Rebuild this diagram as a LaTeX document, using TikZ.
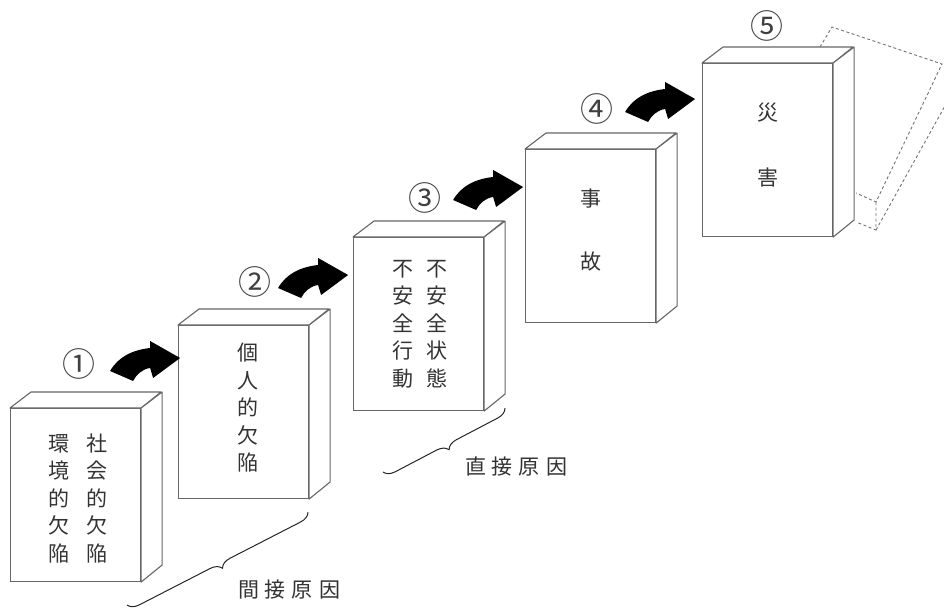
\documentclass[tikz,border=0pt]{standalone}
\usepackage{fontspec}
\newfontfamily\jpfont{Noto Sans CJK JP}
\usetikzlibrary{decorations.pathreplacing}

\begin{document}
\begin{tikzpicture}[x=1pt,y=-1pt,
  box/.style={draw=black!60,fill=white,line width=1.1pt,minimum width=130pt,
    minimum height=173pt,anchor=north west,inner sep=0pt},
  face/.style={draw=black!60,fill=white,line width=1.1pt,line join=round},
  word/.style={font=\jpfont\fontsize{21}{27.5}\selectfont,text=black!80,
    align=center,inner sep=0pt},
  num/.style={font=\jpfont\fontsize{33}{33}\selectfont,text=black!75,inner sep=0pt},
  causebrace/.style={decorate,decoration={brace,amplitude=11pt},
    draw=black!85,line width=1pt},
  fallen/.style={draw=black!55,dash pattern=on 3pt off 2.5pt,line width=0.9pt},
  bendarrow/.pic={\fill (0,0) .. controls (8,-14) and (22,-21) .. (40,-23)
    -- (40,-30) -- (70,-13) -- (43,7) -- (40,-3)
    .. controls (32,-2) and (26,4) .. (23,10) -- cycle;}]
  \useasboundingbox (0,0) rectangle (944,610);

  % the box that falls over
  \draw[fallen] (820,47) -- (832,27) -- (942,64) -- (876,202) -- (856,193);
  \draw[fallen] (876,202) -- (876,230) -- (856,222);
  \draw[fallen] (876,230) -- (946,104);

  % the five blocks
  \node[box] (b1) at (10,408) {};
  \node[box] (b2) at (178,325) {};
  \node[box] (b3) at (353,237) {};
  \node[box] (b4) at (525,149) {};
  \node[box] (b5) at (702,63) {};
  \foreach \b in {b1,b2,b3,b4,b5} {
    \draw[face] (\b.north west) -- ++(21,-16) -- ++(130,0) -- (\b.north east) -- cycle;
    \draw[face] (\b.north east) -- ++(21,-16) -- ++(0,173) -- (\b.south east) -- cycle;
  }

  \node[word,xshift=2pt,yshift=-3pt] (t1) at (b1.center)
    {環\hspace{17pt}社\\境\hspace{17pt}会\\的\hspace{17pt}的\\欠\hspace{17pt}欠\\陥\hspace{17pt}陥};
  \node[word,xshift=4pt,yshift=4pt] (t2) at (b2.center) {個\\人\\的\\欠\\陥};
  \node[word,xshift=1pt] (t3) at (b3.center)
    {不\hspace{13pt}不\\安\hspace{13pt}安\\全\hspace{13pt}全\\行\hspace{13pt}状\\動\hspace{13pt}態};
  \node[word,yshift=6pt] (t4) at (b4.center) {事\\[36pt]故};
  \node[word,yshift=5pt] (t5) at (b5.center) {災\\[38pt]害};

  \node[num,xshift=69pt,yshift=44pt] (n1) at (b1.north west) {①};
  \node[num,xshift=77pt,yshift=43pt] (n2) at (b2.north west) {②};
  \node[num,xshift=72pt,yshift=39pt] (n3) at (b3.north west) {③};
  \node[num,xshift=72pt,yshift=40pt] (n4) at (b4.north west) {④};
  \node[num,xshift=65pt,yshift=37pt] (n5) at (b5.north west) {⑤};

  % arrows from one step to the next
  \pic[xshift=-31pt,yshift=37pt] at (b1.north east) {bendarrow};
  \pic[xshift=-31pt,yshift=37pt] at (b2.north east) {bendarrow};
  \pic[xshift=-31pt,yshift=37pt] at (b3.north east) {bendarrow};
  \pic[xshift=-31pt,yshift=37pt] at (b4.north east) {bendarrow};

  % causes
  \draw[causebrace] (308,512) -- (127,605);
  \node[word] (c1) at (289,590) {間\hspace{6pt}接\hspace{6pt}原\hspace{6pt}因};
  \draw[causebrace] (505,408) -- (383,472);
  \node[word] (c2) at (516,466) {直\hspace{6pt}接\hspace{6pt}原\hspace{6pt}因};
\end{tikzpicture}
\end{document}
